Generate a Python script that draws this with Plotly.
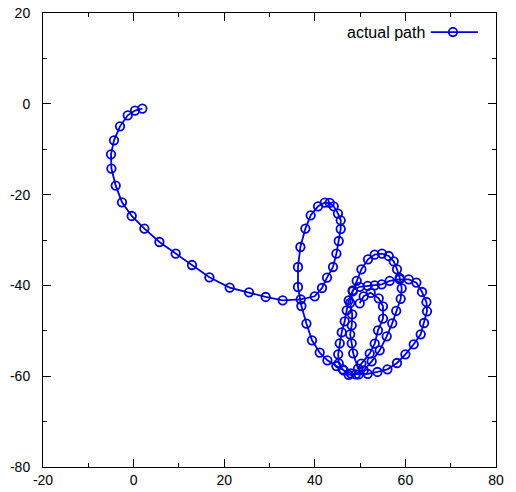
import plotly.graph_objects as go

# actual path (x, y)
path_x = [1.94, 0.31, -1.30, -3.00, -4.33, -4.99, -4.90, -3.95, -2.56, -0.42,
          2.38, 5.70, 9.29, 12.89, 16.73, 21.21, 25.47, 29.16, 32.91, 36.89,
          39.98, 41.59, 42.69, 44.02, 44.77, 45.28, 45.72, 45.72, 45.12, 44.17,
          43.29, 42.19, 40.71, 39.09, 37.92, 36.82, 36.29, 36.29, 37.04, 38.15,
          39.38, 41.08, 42.78, 44.77, 46.38, 47.92, 49.69, 51.68, 53.82, 56.03,
          58.15, 60.00, 61.83, 63.38, 64.11, 64.77, 64.64, 63.66, 62.43, 60.73,
          58.74, 56.53, 54.77, 53.22, 51.68, 49.91, 48.37, 47.48, 47.04, 46.60,
          45.94, 45.50, 45.17, 45.28, 46.16, 47.48, 49.03, 50.80, 52.56, 54.33,
          55.87, 57.09, 57.97, 58.96, 59.18, 58.74, 58.15, 57.42, 56.31, 54.83,
          53.22, 51.74, 50.29, 49.25, 48.37, 47.81, 48.26, 48.15, 47.81, 48.15,
          48.48, 49.54, 50.29, 52.12, 53.22, 53.95, 55.05, 55.05, 54.11, 52.34,
          50.79, 49.91]
path_y = [-1.06, -1.50, -2.53, -4.96, -8.04, -11.12, -14.27, -18.02, -21.70, -24.71,
          -27.49, -30.44, -32.99, -35.51, -38.22, -40.48, -41.52, -42.55, -43.28, -43.06,
          -42.40, -40.57, -38.28, -35.95, -33.00, -30.22, -27.58, -25.66, -24.19, -22.58,
          -21.81, -21.76, -22.58, -24.56, -27.49, -31.54, -35.95, -40.35, -44.54, -48.41,
          -52.09, -54.80, -56.50, -57.75, -58.70, -59.36, -59.58, -59.47, -59.07, -58.48,
          -57.09, -55.18, -52.97, -50.77, -48.28, -45.70, -43.66, -41.45, -39.38, -38.66,
          -38.66, -38.99, -39.76, -39.98, -40.09, -40.31, -41.08, -43.28, -45.48, -47.91,
          -50.33, -52.75, -55.18, -57.16, -58.48, -59.69, -59.58, -58.70, -56.72, -54.30,
          -51.21, -48.35, -45.59, -42.95, -40.64, -38.33, -36.45, -34.69, -33.52, -33.00,
          -33.22, -34.25, -36.45, -38.99, -41.30, -43.83, -46.37, -48.79, -50.77, -52.75,
          -54.96, -58.33, -57.22, -55.02, -52.82, -49.89, -47.31, -44.60, -42.84, -41.63,
          -42.40, -43.94]

series_name = "actual path"
x_ticks = [-20, 0, 20, 40, 60, 80]
y_ticks = [-80, -60, -40, -20, 0, 20]

BLUE = "#0000dc"
FONT = "Liberation Sans, Arial, sans-serif"
LW = 1.8

fig = go.Figure()
fig.add_trace(go.Scatter(
    x=path_x, y=path_y, mode="lines+markers", name=series_name,
    line=dict(color=BLUE, width=LW),
    marker=dict(symbol="circle-open", size=8.5, color=BLUE, line=dict(width=LW, color=BLUE)),
    showlegend=False,
))

axis_common = dict(
    automargin=False,
    showgrid=False, zeroline=False,
    showline=True, linecolor="black", linewidth=1, mirror="allticks",
    ticks="inside", ticklen=8, tickwidth=1, tickcolor="black",
    tickfont=dict(family=FONT, size=14, color="black"),
    minor=dict(ticks="inside", ticklen=4, tickwidth=1, tickcolor="black", dtick=10),
)

fig.update_xaxes(range=[-20, 80], tickvals=x_ticks, ticktext=[str(v) for v in x_ticks],
                 **axis_common)
fig.update_yaxes(range=[-80, 20], tickvals=y_ticks, ticktext=[str(v) for v in y_ticks],
                 ticklabelstandoff=9, **axis_common)

# manual gnuplot-style key: text left, sample right
ly = 0.958
fig.add_annotation(text=series_name, xref="paper", yref="paper", x=0.848, y=ly,
                   xanchor="right", yanchor="middle", showarrow=False,
                   font=dict(family=FONT, size=16, color="black"))
fig.add_shape(type="line", xref="paper", yref="paper", x0=0.856, x1=0.960, y0=ly, y1=ly,
              line=dict(color=BLUE, width=LW))
fig.add_shape(type="circle", xref="paper", yref="paper", xsizemode="pixel", ysizemode="pixel",
              xanchor=0.905, yanchor=ly, x0=-4.2, x1=4.2, y0=-4.2, y1=4.2,
              line=dict(color=BLUE, width=LW), fillcolor="rgba(0,0,0,0)")

fig.update_layout(
    width=516, height=492,
    margin=dict(l=43, r=20, t=13, b=25, autoexpand=False),
    paper_bgcolor="white", plot_bgcolor="white",
    font=dict(family=FONT, size=14, color="black"),
)

fig.write_html("out.html", config={"displayModeBar": False},
               post_script="document.body.style.margin='0px';document.body.style.overflow='hidden';")
